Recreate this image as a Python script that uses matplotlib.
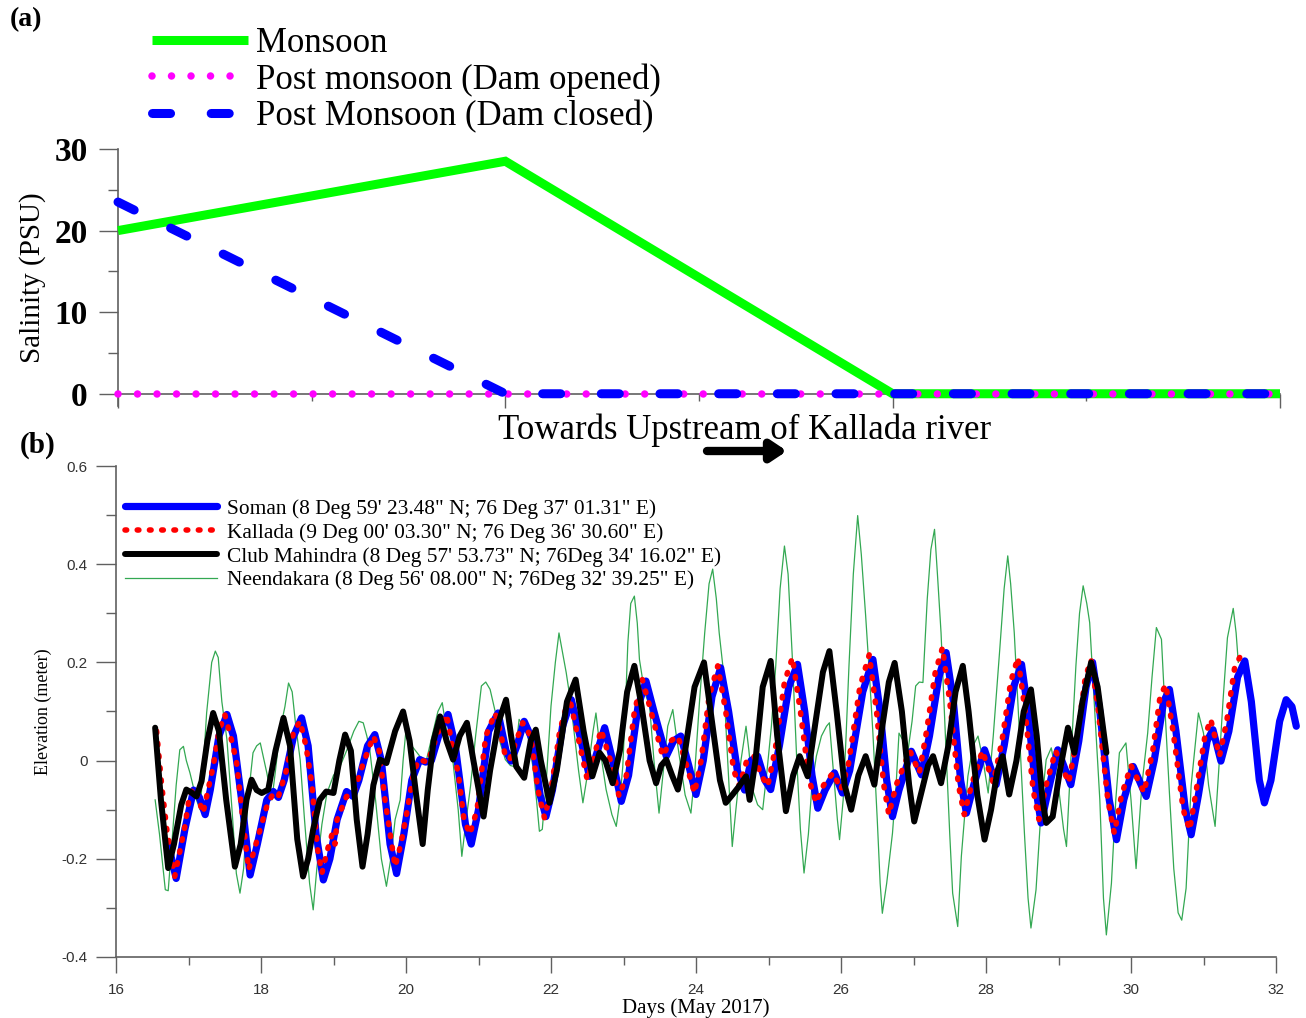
import matplotlib
matplotlib.use('Agg')
import matplotlib.pyplot as plt
from matplotlib.ticker import FixedLocator, MultipleLocator

plt.rcParams['axes.unicode_minus'] = False

# ---------------- data: panel (a) ----------------
station_pos = [0, 1, 2, 3]
monsoon = [20.0, 28.5, 0.0, 0.0]
dam_opened = [0.0, 0.0, 0.0, 0.0]
dam_closed = [23.5, 0.0, 0.0, 0.0]
sal_ticks = [0, 10, 20, 30]

# ---------------- data: panel (b) ----------------
soman_t = [16.72, 16.83, 16.95, 17.07, 17.15, 17.23, 17.30, 17.42, 17.53, 17.62, 17.75, 17.85, 17.95, 18.08, 18.17,
           18.24, 18.32, 18.45, 18.56, 18.65, 18.76, 18.86, 18.95, 19.05, 19.18, 19.27, 19.35, 19.47, 19.57, 19.66,
           19.78, 19.87, 19.97, 20.08, 20.19, 20.27, 20.35, 20.47, 20.58, 20.68, 20.82, 20.90, 21.00, 21.14, 21.27,
           21.38, 21.45, 21.53, 21.63, 21.75, 21.85, 21.93, 22.02, 22.16, 22.28, 22.40, 22.53, 22.60, 22.74, 22.85,
           22.97, 23.07, 23.20, 23.31, 23.42, 23.59, 23.69, 23.79, 23.90, 24.00, 24.10, 24.22, 24.34, 24.45, 24.57,
           24.67, 24.76, 24.85, 24.95, 25.03, 25.15, 25.28, 25.40, 25.50, 25.60, 25.68, 25.78, 25.91, 26.02, 26.12,
           26.30, 26.44, 26.54, 26.63, 26.71, 26.80, 26.97, 27.11, 27.22, 27.35, 27.45, 27.55, 27.65, 27.73, 27.83,
           27.98, 28.14, 28.25, 28.38, 28.49, 28.58, 28.68, 28.76, 28.86, 28.99, 29.17, 29.28, 29.38, 29.47, 29.57,
           29.70, 29.80, 29.90, 30.03, 30.21, 30.32, 30.45, 30.53, 30.62, 30.75, 30.83, 30.93, 31.05, 31.13, 31.24,
           31.35, 31.47, 31.57, 31.66, 31.77, 31.84, 31.93, 32.05, 32.14, 32.22, 32.28]
soman_h = [-0.17, -0.24, -0.14, -0.06, -0.075, -0.11, -0.06, 0.05, 0.094, 0.05, -0.10, -0.233, -0.17, -0.08, -0.063,
           -0.075, -0.04, 0.05, 0.087, 0.03, -0.15, -0.243, -0.20, -0.12, -0.063, -0.073, -0.04, 0.03, 0.053, 0.0,
           -0.17, -0.23, -0.15, -0.04, 0.002, -0.003, 0.0, 0.06, 0.094, 0.03, -0.13, -0.17, -0.10, 0.06, 0.097,
           0.02, -0.001, 0.03, 0.08, 0.04, -0.07, -0.114, -0.06, 0.07, 0.124, 0.05, -0.032, 0.0, 0.067, 0.0,
           -0.083, -0.03, 0.11, 0.162, 0.10, 0.009, 0.04, 0.05, -0.01, -0.069, 0.0, 0.13, 0.189, 0.10, -0.02,
           -0.06, 0.0, 0.009, -0.04, -0.059, 0.03, 0.15, 0.196, 0.10, -0.03, -0.097, -0.06, -0.025, -0.066, -0.02,
           0.14, 0.206, 0.10, -0.04, -0.114, -0.06, 0.019, -0.029, 0.05, 0.17, 0.22, 0.12, -0.04, -0.107, -0.05,
           0.022, -0.049, 0.03, 0.15, 0.196, 0.10, -0.05, -0.127, -0.06, 0.022, -0.049, 0.04, 0.15, 0.20, 0.10,
           -0.08, -0.161, -0.08, -0.012, -0.073, 0.0, 0.12, 0.145, 0.06, -0.10, -0.151, -0.07, 0.04, 0.063, -0.001,
           0.06, 0.17, 0.203, 0.12, -0.04, -0.086, -0.04, 0.08, 0.124, 0.11, 0.07]

kallada_t = [16.56, 16.63, 16.70, 16.77, 16.81, 16.95, 17.02, 17.09, 17.20, 17.34, 17.42, 17.50, 17.58, 17.66, 17.75,
             17.83, 17.93, 18.08, 18.17, 18.24, 18.35, 18.45, 18.54, 18.62, 18.70, 18.78, 18.84, 18.92, 18.98, 19.02,
             19.05, 19.18, 19.27, 19.40, 19.55, 19.63, 19.71, 19.85, 19.93, 20.01, 20.10, 20.17, 20.30, 20.45, 20.56,
             20.65, 20.72, 20.80, 20.88, 20.98, 21.10, 21.23, 21.30, 21.37, 21.43, 21.52, 21.61, 21.72, 21.82, 21.91,
             22.00, 22.12, 22.25, 22.37, 22.50, 22.58, 22.69, 22.82, 22.94, 23.04, 23.15, 23.26, 23.38, 23.54, 23.65,
             23.75, 23.87, 23.98, 24.07, 24.18, 24.30, 24.41, 24.52, 24.60, 24.70, 24.80, 24.90, 24.99, 25.10, 25.22,
             25.33, 25.44, 25.56, 25.66, 25.76, 25.89, 26.00, 26.10, 26.26, 26.39, 26.49, 26.59, 26.66, 26.76, 26.95,
             27.08, 27.18, 27.30, 27.40, 27.50, 27.62, 27.70, 27.80, 27.95, 28.10, 28.22, 28.34, 28.44, 28.54, 28.65,
             28.73, 28.83, 28.96, 29.14, 29.26, 29.37, 29.45, 29.55, 29.68, 29.77, 29.87, 30.00, 30.18, 30.30, 30.40,
             30.48, 30.58, 30.72, 30.81, 30.90, 31.02, 31.10, 31.22, 31.32, 31.43, 31.52]
kallada_h = [0.06, -0.05, -0.14, -0.20, -0.236, -0.134, -0.066, -0.056, -0.107, -0.012, 0.06, 0.094, 0.05, 0.0, -0.12,
             -0.222, -0.17, -0.093, -0.066, -0.073, -0.02, 0.06, 0.08, 0.03, -0.046, -0.18, -0.229, -0.18, -0.15, -0.17,
             -0.12, -0.073, -0.07, -0.01, 0.05, 0.02, -0.08, -0.216, -0.17, -0.107, -0.03, 0.002, -0.003, 0.06, 0.094,
             0.02, -0.025, -0.12, -0.15, -0.10, 0.05, 0.097, 0.06, 0.009, 0.002, 0.04, 0.077, 0.05, -0.06, -0.117,
             -0.06, 0.06, 0.131, 0.05, -0.039, 0.0, 0.063, 0.0, -0.073, -0.03, 0.10, 0.165, 0.10, 0.009, 0.04,
             0.05, -0.01, -0.066, 0.0, 0.13, 0.193, 0.10, -0.02, -0.052, 0.0, 0.009, -0.03, -0.052, 0.03, 0.16,
             0.21, 0.10, -0.04, -0.086, -0.05, -0.025, -0.059, -0.01, 0.15, 0.216, 0.10, -0.05, -0.11, -0.05, 0.02,
             -0.025, 0.06, 0.18, 0.23, 0.12, -0.05, -0.11, -0.05, 0.02, -0.045, 0.04, 0.16, 0.21, 0.10, -0.06,
             -0.12, -0.05, 0.02, -0.045, 0.05, 0.17, 0.205, 0.10, -0.08, -0.148, -0.07, -0.01, -0.065, 0.02, 0.13,
             0.155, 0.06, -0.10, -0.141, -0.06, 0.05, 0.084, 0.009, 0.08, 0.19, 0.216]

club_t = [16.54, 16.62, 16.72, 16.80, 16.90, 16.97, 17.04, 17.11, 17.18, 17.26, 17.34, 17.42, 17.52, 17.64, 17.72,
          17.80, 17.87, 17.94, 18.01, 18.10, 18.20, 18.31, 18.40, 18.50, 18.58, 18.65, 18.72, 18.81, 18.90, 19.00,
          19.08, 19.16, 19.24, 19.32, 19.40, 19.47, 19.55, 19.64, 19.73, 19.85, 19.96, 20.05, 20.14, 20.23, 20.30,
          20.38, 20.47, 20.56, 20.65, 20.74, 20.84, 20.93, 21.07, 21.16, 21.28, 21.38, 21.45, 21.52, 21.63, 21.72,
          21.79, 21.86, 21.98, 22.08, 22.22, 22.34, 22.45, 22.57, 22.67, 22.75, 22.85, 22.95, 23.05, 23.15, 23.25,
          23.36, 23.45, 23.52, 23.59, 23.67, 23.75, 23.85, 23.98, 24.11, 24.22, 24.33, 24.41, 24.50, 24.58, 24.69,
          24.74, 24.82, 24.92, 25.03, 25.12, 25.24, 25.34, 25.43, 25.54, 25.64, 25.75, 25.84, 25.94, 26.05, 26.14,
          26.24, 26.34, 26.46, 26.56, 26.66, 26.74, 26.84, 26.94, 27.01, 27.10, 27.20, 27.27, 27.38, 27.48, 27.58,
          27.68, 27.76, 27.88, 27.98, 28.07, 28.16, 28.23, 28.32, 28.42, 28.52, 28.62, 28.70, 28.78, 28.83, 28.92,
          29.02, 29.13, 29.22, 29.33, 29.45, 29.54, 29.66]
club_h = [0.067, -0.08, -0.219, -0.17, -0.09, -0.059, -0.065, -0.073, -0.042, 0.04, 0.097, 0.06, -0.08, -0.216, -0.17,
          -0.08, -0.039, -0.06, -0.066, -0.059, 0.02, 0.087, 0.03, -0.16, -0.236, -0.20, -0.14, -0.08, -0.063, -0.066,
          0.0, 0.053, 0.02, -0.12, -0.216, -0.15, -0.05, 0.002, -0.005, 0.06, 0.10, 0.04, -0.07, -0.17, -0.06,
          0.04, 0.09, 0.04, 0.002, 0.05, 0.077, 0.0, -0.114, -0.02, 0.08, 0.124, 0.05, -0.012, -0.035, 0.04,
          0.063, 0.0, -0.086, -0.02, 0.12, 0.165, 0.06, -0.032, 0.016, 0.0, -0.046, 0.02, 0.14, 0.193, 0.11,
          0.0, -0.046, -0.01, 0.002, -0.03, -0.059, 0.02, 0.15, 0.20, 0.08, -0.04, -0.086, -0.07, -0.055, -0.032,
          -0.08, 0.0, 0.15, 0.203, 0.05, -0.103, -0.03, 0.009, -0.032, 0.07, 0.18, 0.223, 0.10, -0.05, -0.10,
          -0.03, 0.009, -0.049, 0.06, 0.16, 0.199, 0.10, -0.05, -0.124, -0.07, -0.01, 0.009, -0.046, 0.03, 0.14,
          0.193, 0.10, -0.07, -0.161, -0.10, -0.02, 0.009, -0.069, 0.0, 0.10, 0.145, 0.05, -0.08, -0.127, -0.114,
          -0.02, 0.067, 0.016, 0.12, 0.20, 0.15, 0.016]

neend_t = [16.54, 16.60, 16.68, 16.72, 16.78, 16.83, 16.88, 16.93, 16.97, 17.02, 17.11, 17.16, 17.20, 17.25, 17.32,
           17.37, 17.41, 17.46, 17.53, 17.60, 17.66, 17.71, 17.76, 17.82, 17.89, 17.94, 17.99, 18.08, 18.15, 18.20,
           18.26, 18.33, 18.38, 18.43, 18.48, 18.54, 18.60, 18.67, 18.72, 18.77, 18.84, 18.91, 19.00, 19.09, 19.18,
           19.28, 19.35, 19.41, 19.46, 19.50, 19.58, 19.66, 19.73, 19.79, 19.85, 19.92, 19.96, 20.00, 20.08, 20.19,
           20.28, 20.36, 20.44, 20.50, 20.56, 20.65, 20.72, 20.77, 20.83, 20.89, 20.96, 21.04, 21.10, 21.16, 21.23,
           21.30, 21.37, 21.44, 21.49, 21.56, 21.62, 21.68, 21.75, 21.80, 21.84, 21.88, 21.94, 22.00, 22.06, 22.11,
           22.16, 22.21, 22.27, 22.32, 22.38, 22.44, 22.49, 22.53, 22.58, 22.62, 22.68, 22.76, 22.84, 22.90, 22.95,
           22.99, 23.03, 23.06, 23.10, 23.15, 23.19, 23.22, 23.29, 23.36, 23.42, 23.49, 23.55, 23.61, 23.68, 23.72,
           23.77, 23.85, 23.93, 23.98, 24.05, 24.12, 24.18, 24.23, 24.28, 24.32, 24.37, 24.43, 24.50, 24.55, 24.62,
           24.69, 24.73, 24.78, 24.85, 24.92, 24.98, 25.04, 25.10, 25.16, 25.22, 25.27, 25.33, 25.39, 25.44, 25.49,
           25.55, 25.60, 25.66, 25.73, 25.80, 25.84, 25.90, 25.95, 25.98, 26.03, 26.07, 26.11, 26.17, 26.23, 26.28,
           26.34, 26.39, 26.44, 26.50, 26.54, 26.57, 26.63, 26.71, 26.76, 26.80, 26.86, 26.92, 26.98, 27.03, 27.08,
           27.13, 27.19, 27.24, 27.29, 27.33, 27.38, 27.44, 27.50, 27.54, 27.61, 27.66, 27.75, 27.82, 27.89, 27.96,
           28.03, 28.10, 28.19, 28.25, 28.30, 28.34, 28.39, 28.46, 28.53, 28.58, 28.62, 28.69, 28.76, 28.83, 28.90,
           28.96, 29.01, 29.07, 29.11, 29.17, 29.24, 29.29, 29.34, 29.39, 29.43, 29.50, 29.57, 29.62, 29.66, 29.73,
           29.79, 29.84, 29.93, 30.00, 30.07, 30.15, 30.23, 30.29, 30.35, 30.42, 30.47, 30.53, 30.59, 30.65, 30.70,
           30.76, 30.83, 30.93, 31.00, 31.07, 31.16, 31.21, 31.27, 31.33, 31.41, 31.45, 31.48]
neend_h = [-0.08, -0.15, -0.263, -0.265, -0.15, -0.05, 0.022, 0.029, 0.0, -0.025, -0.08, -0.10, -0.02, 0.097, 0.20,
           0.223, 0.21, 0.12, 0.043, -0.10, -0.23, -0.27, -0.22, -0.08, 0.016, 0.03, 0.036, -0.025, -0.08, -0.02,
           0.06, 0.11, 0.158, 0.14, 0.07, 0.002, -0.12, -0.25, -0.304, -0.22, -0.13, -0.066, -0.03, -0.012, 0.02,
           0.06, 0.08, 0.077, 0.05, 0.022, -0.08, -0.20, -0.256, -0.20, -0.12, -0.08, 0.0, 0.063, 0.03, 0.009,
           0.0, 0.05, 0.10, 0.118, 0.06, -0.005, -0.10, -0.195, -0.12, -0.052, 0.05, 0.152, 0.16, 0.145, 0.10,
           0.036, 0.002, -0.01, -0.012, 0.084, 0.07, 0.05, -0.012, -0.08, -0.144, -0.14, -0.03, 0.111, 0.20, 0.26,
           0.22, 0.179, 0.12, 0.056, -0.02, -0.086, -0.04, 0.002, 0.06, 0.097, 0.02, -0.059, -0.11, -0.134, -0.08,
           -0.012, 0.12, 0.24, 0.32, 0.335, 0.28, 0.206, 0.14, 0.111, 0.0, -0.107, -0.02, 0.07, 0.104, 0.06,
           0.009, -0.07, -0.107, -0.03, 0.124, 0.26, 0.36, 0.39, 0.33, 0.26, 0.193, 0.02, -0.175, -0.10, 0.0,
           0.07, 0.02, -0.059, -0.09, -0.10, -0.02, 0.07, 0.193, 0.35, 0.437, 0.38, 0.206, 0.0, -0.14, -0.229,
           -0.15, -0.05, 0.009, 0.05, 0.07, 0.077, -0.03, -0.12, -0.161, -0.08, 0.05, 0.193, 0.38, 0.499, 0.42,
           0.295, 0.18, 0.056, -0.12, -0.25, -0.311, -0.25, -0.148, -0.05, 0.056, 0.04, 0.016, 0.08, 0.152, 0.16,
           0.159, 0.33, 0.43, 0.471, 0.38, 0.26, 0.05, -0.15, -0.27, -0.338, -0.195, -0.032, 0.03, 0.05, 0.0,
           -0.066, 0.05, 0.227, 0.35, 0.417, 0.36, 0.26, 0.06, -0.148, -0.28, -0.341, -0.263, -0.10, 0.002, 0.026,
           -0.02, -0.066, -0.14, -0.175, 0.0, 0.193, 0.30, 0.356, 0.32, 0.281, 0.10, -0.08, -0.28, -0.355, -0.25,
           -0.08, 0.016, 0.036, -0.08, -0.22, -0.05, 0.056, 0.17, 0.271, 0.247, 0.10, -0.066, -0.22, -0.31, -0.325,
           -0.26, -0.05, 0.097, 0.056, -0.05, -0.134, -0.02, 0.124, 0.25, 0.31, 0.26, 0.20]

elev_ticks = [-0.4, -0.2, 0.0, 0.2, 0.4, 0.6]
elev_labels = ['-0.4', '-0.2', '0', '0.2', '0.4', '0.6']
day_ticks = [16, 18, 20, 22, 24, 26, 28, 30, 32]

legend_a = ['Monsoon', 'Post monsoon (Dam opened)', 'Post Monsoon (Dam closed)']
legend_b = ['Soman (8 Deg 59\' 23.48" N; 76 Deg 37\' 01.31" E)',
            'Kallada (9 Deg 00\' 03.30" N; 76 Deg 36\' 30.60" E)',
            'Club Mahindra (8 Deg 57\' 53.73" N; 76Deg 34\' 16.02" E)',
            'Neendakara (8 Deg 56\' 08.00" N; 76Deg 32\' 39.25" E)']

# ---------------- figure ----------------
W, H = 1306, 1018
fig = plt.figure(figsize=(W / 100, H / 100), dpi=100)


def fx(px):
    return px / W


def fy(py):
    return 1 - py / H


SERIF = ['Liberation Serif', 'DejaVu Serif']
SANS = ['Liberation Sans', 'DejaVu Sans']
SPINE = '#606060'

# ---------- panel (a) ----------
ax1 = fig.add_axes([fx(118), fy(406), fx(1280) - fx(118), fy(149) - fy(406)])
ax1.set_xlim(0, 3)
ax1.set_ylim(-1.5, 30)
l1, = ax1.plot(station_pos, monsoon, color='#00ff00', lw=6.5, solid_capstyle='butt',
               solid_joinstyle='miter', zorder=3, clip_on=False, label=legend_a[0])
l2, = ax1.plot(station_pos, dam_opened, color='#ff00ff', lw=5.4, linestyle=(0, (0.001, 2.6)),
               dash_capstyle='round', zorder=4, clip_on=False, label=legend_a[1])
l3, = ax1.plot(station_pos, dam_closed, color='#0000ff', lw=6.5, linestyle=(0, (2.0, 4.5)),
               dash_capstyle='round', zorder=5, clip_on=False, label=legend_a[2])
for s in ['top', 'right']:
    ax1.spines[s].set_visible(False)
ax1.spines['bottom'].set_position(('data', 0))
for s in ['left', 'bottom']:
    ax1.spines[s].set_color(SPINE)
    ax1.spines[s].set_linewidth(1.2)
ax1.xaxis.set_major_locator(FixedLocator([0, 1, 2, 3]))
ax1.xaxis.set_minor_locator(FixedLocator([0.5, 1.5, 2.5]))
ax1.set_xticklabels([])
ax1.yaxis.set_major_locator(FixedLocator(sal_ticks))
ax1.yaxis.set_minor_locator(FixedLocator([5, 15, 25]))
ax1.tick_params(axis='x', which='major', direction='out', length=10, width=1, color=SPINE)
ax1.tick_params(axis='x', which='minor', direction='out', length=5, width=1, color=SPINE)
ax1.tick_params(axis='y', which='major', direction='out', length=14, width=1, color=SPINE, pad=8)
ax1.tick_params(axis='y', which='minor', direction='out', length=7, width=1, color=SPINE)
ax1.set_yticklabels([str(v) for v in sal_ticks], fontfamily=SERIF, fontsize=24, fontweight='bold')
ax1.set_ylabel('Salinity (PSU)', fontfamily=SERIF, fontsize=21, labelpad=6)
ax1.legend(handles=[l1, l2, l3], loc='upper left', bbox_to_anchor=(fx(152), fy(27)),
           bbox_transform=fig.transFigure, frameon=False, borderpad=0, borderaxespad=0,
           handlelength=2.77, handletextpad=0.23, labelspacing=0.09,
           prop={'family': SERIF, 'size': 25})

fig.text(fx(745), fy(430), 'Towards Upstream of Kallada river', ha='center', va='center',
         fontfamily=SERIF, fontsize=25)
ax1.annotate('', xy=(787, H - 451), xytext=(707, H - 451), xycoords='figure pixels',
             textcoords='figure pixels',
             arrowprops=dict(arrowstyle='-|>,head_length=0.45,head_width=0.3', lw=6, color='black',
                             mutation_scale=20, shrinkA=0, shrinkB=0, capstyle='round'))
fig.text(fx(10), fy(20), '(a)', ha='left', va='center', fontfamily=SERIF, fontsize=20, fontweight='bold')
fig.text(fx(20), fy(445), '(b)', ha='left', va='center', fontfamily=SERIF, fontsize=21, fontweight='bold')

# ---------- panel (b) ----------
ax2 = fig.add_axes([fx(116), fy(957), fx(1276) - fx(116), fy(466) - fy(957)])
ax2.set_xlim(16, 32)
ax2.set_ylim(-0.4, 0.6)
g, = ax2.plot(neend_t, neend_h, color='#33a852', lw=0.9, zorder=2, clip_on=False, label=legend_b[3])
b, = ax2.plot(soman_t, soman_h, color='#0000ff', lw=5.2, zorder=3, clip_on=False,
              solid_joinstyle='round', solid_capstyle='round', label=legend_b[0])
r, = ax2.plot(kallada_t, kallada_h, color='#ff0000', lw=4.0, linestyle=(0, (0.3, 1.9)),
              dash_capstyle='round', zorder=4, clip_on=False, label=legend_b[1])
k, = ax2.plot(club_t, club_h, color='#000000', lw=4.3, zorder=5, clip_on=False,
              solid_joinstyle='round', solid_capstyle='round', label=legend_b[2])
for s in ['top', 'right']:
    ax2.spines[s].set_visible(False)
for s in ['left', 'bottom']:
    ax2.spines[s].set_color(SPINE)
    ax2.spines[s].set_linewidth(1.2)
ax2.xaxis.set_major_locator(FixedLocator(day_ticks))
ax2.xaxis.set_minor_locator(MultipleLocator(1))
ax2.yaxis.set_major_locator(FixedLocator(elev_ticks))
ax2.yaxis.set_minor_locator(MultipleLocator(0.1))
ax2.set_yticklabels(elev_labels)
ax2.set_xticklabels([str(d) for d in day_ticks])
ax2.tick_params(axis='x', which='major', direction='out', length=11.5, width=1, color=SPINE,
                labelsize=11, labelcolor='#333333', pad=7)
ax2.tick_params(axis='x', which='minor', direction='out', length=5.8, width=1, color=SPINE)
ax2.tick_params(axis='y', which='major', direction='out', length=14.4, width=1, color=SPINE,
                labelsize=11, labelcolor='#333333', pad=6)
ax2.tick_params(axis='y', which='minor', direction='out', length=7.2, width=1, color=SPINE)
for lab in ax2.get_xticklabels() + ax2.get_yticklabels():
    lab.set_fontfamily(SANS)
ax2.set_xlabel('Days (May 2017)', fontfamily=SERIF, fontsize=15, labelpad=1)
ax2.set_ylabel('Elevation (meter)', fontfamily=SERIF, fontsize=13, labelpad=7)
ax2.legend(handles=[b, r, k, g], loc='upper left', bbox_to_anchor=(fx(125), fy(499)),
           bbox_transform=fig.transFigure, frameon=False, borderpad=0, borderaxespad=0,
           handlelength=4.3, handletextpad=0.45, labelspacing=0.18,
           prop={'family': SERIF, 'size': 15.4})

fig.savefig('out.png', dpi=100)
